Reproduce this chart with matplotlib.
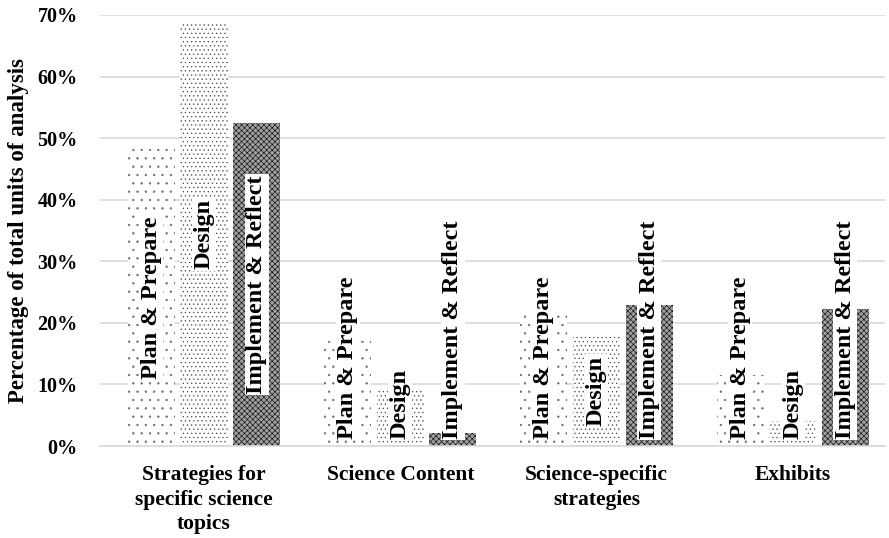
import matplotlib
matplotlib.use("Agg")
from matplotlib import pyplot as plt
import numpy as np

categories = ["Strategies for\nspecific science\ntopics", "Science Content",
              "Science-specific\nstrategies", "Exhibits"]
series_names = ["Plan & Prepare", "Design", "Implement & Reflect"]
plan_prepare = [0.482, 0.170, 0.218, 0.115]
design = [0.688, 0.091, 0.179, 0.041]
implement_reflect = [0.524, 0.021, 0.229, 0.222]
y_ticks = [0, 0.1, 0.2, 0.3, 0.4, 0.5, 0.6, 0.7]

plt.rcParams["font.family"] = ["Liberation Serif", "DejaVu Serif"]
plt.rcParams["font.weight"] = "bold"
plt.rcParams["hatch.linewidth"] = 0.4

fig = plt.figure(figsize=(8.89, 5.38), dpi=100)
ax = fig.add_axes([100 / 889, 1 - 446 / 538, 785 / 889, 431 / 538])

x = np.arange(len(categories))
width = 0.24
step = 0.268
hatches = ["..", "....", "xxxxxx"]
edges = ["#666666", "#444444", "black"]
faces = ["white", "white", "#a0a0a0"]
# rough label length in data units, used to clamp labels to the base
label_len = [0.30, 0.135, 0.37]

for i, (name, vals) in enumerate(zip(series_names, [plan_prepare, design, implement_reflect])):
    pos = x + (i - 1) * step
    ax.bar(pos, vals, width, color=faces[i], edgecolor=edges[i], hatch=hatches[i],
           linewidth=0, zorder=2)
    for p, v in zip(pos, vals):
        if v / 2 - label_len[i] / 2 > 0.01:
            y, va = v / 2, "center"
        else:
            y, va = 0.012, "bottom"
        ax.text(p, y, name, rotation=90, ha="center", va=va,
                fontsize=17.5, fontweight="bold", zorder=3,
                bbox=dict(facecolor="white", edgecolor="none", pad=1))

ax.set_ylim(0, 0.70)
ax.set_xlim(-0.53, 3.47)
ax.set_yticks(y_ticks)
ax.set_yticklabels([f"{int(round(t * 100))}%" for t in y_ticks], fontsize=14.5, fontweight="bold")
ax.set_xticks(x)
ax.set_xticklabels(categories, fontsize=15.5, fontweight="bold", linespacing=1.3)
ax.tick_params(axis="y", length=0, pad=16)
ax.tick_params(axis="x", length=0, pad=14)
ax.yaxis.grid(True, color="#d9d9d9", linewidth=1.2, zorder=0)
ax.set_axisbelow(True)
for s in ["top", "right", "left"]:
    ax.spines[s].set_visible(False)
ax.spines["bottom"].set_color("#d9d9d9")
ax.spines["bottom"].set_linewidth(1.2)

ax.set_ylabel("Percentage of total units of analysis", fontsize=16.5, fontweight="bold", labelpad=6)

fig.savefig("out.png", dpi=100)
